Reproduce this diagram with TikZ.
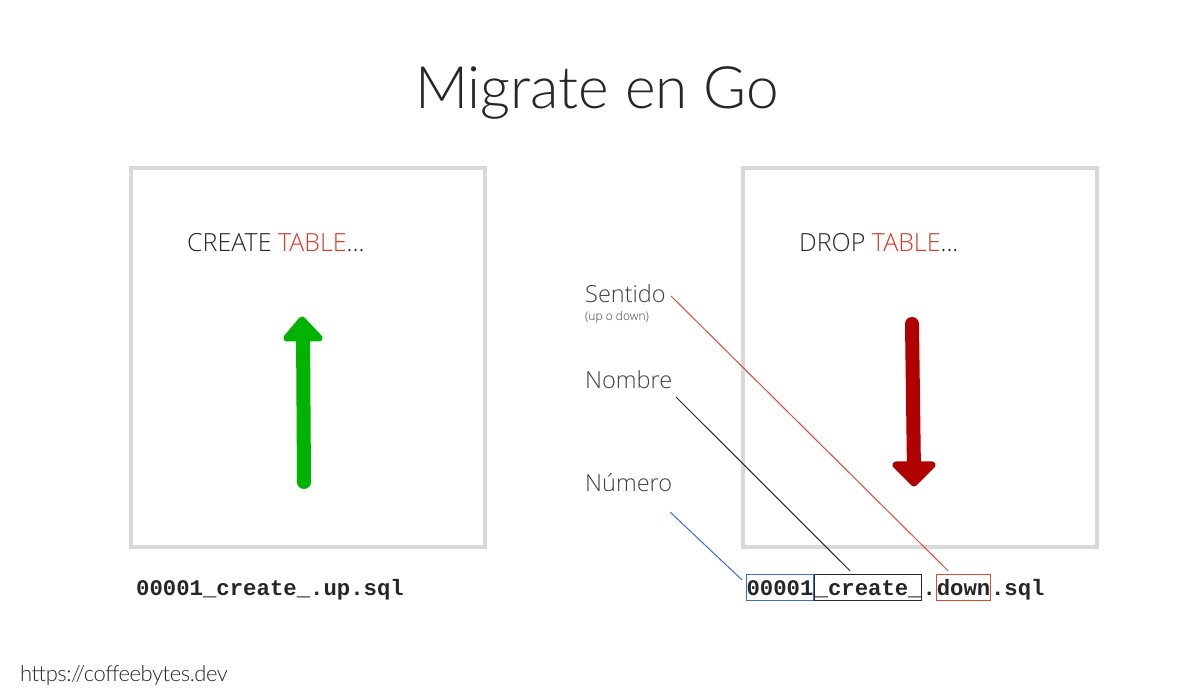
\documentclass[tikz,border=0pt]{standalone}
\usepackage{fontspec}
\usetikzlibrary{calc}
\setmainfont{Open Sans}
\newfontfamily\titlefont{Lato Light}
\newfontfamily\urlfont{Lato Light}[LetterSpace=-2]
\newfontfamily\labfont{Open Sans Light}
\newfontfamily\codefont{Liberation Mono}
\definecolor{tdark}{HTML}{262626}
\definecolor{tgray}{HTML}{404040}
\definecolor{tred}{HTML}{D63A26}
\definecolor{lred}{HTML}{DB4A33}
\definecolor{tblue}{HTML}{3A6FD0}
\definecolor{panelgray}{HTML}{D9D9D9}
\definecolor{upgreen}{HTML}{00B300}
\definecolor{downred}{HTML}{B00000}
\begin{document}
\begin{tikzpicture}[x=1pt,y=-1pt,
  titlestyle/.style={font=\titlefont\fontsize{58.5}{58.5}\selectfont, text=tdark, inner sep=0},
  panel/.style={draw=panelgray, line width=4pt, minimum width=354pt, minimum height=379pt},
  sqlhead/.style={font=\labfont\fontsize{25}{25}\selectfont, text=tdark, inner sep=0, anchor=base west},
  lab/.style={font=\labfont\fontsize{23.5}{23.5}\selectfont, text=tgray, inner sep=0, anchor=base west},
  smalllab/.style={font=\labfont\fontsize{12}{12}\selectfont, text=tgray, inner sep=0, anchor=base west},
  code/.style={font=\codefont\bfseries\fontsize{22.3}{22.3}\selectfont, text=tdark, anchor=base west, inner xsep=0pt, inner ysep=0pt},
  codebox/.style={code, inner xsep=0pt, inner ysep=3.5pt, text height=17pt, text depth=2pt, line width=1.2pt},
  leader/.style={line width=1pt},
  urlstyle/.style={font=\urlfont\fontsize{22}{22}\selectfont, text=tdark, inner sep=0, anchor=base west}
]
\useasboundingbox (0,0) rectangle (1200,700);
\fill[white] (0,0) rectangle (1200,700);

% title
\node[titlestyle] (title) at (597,93) {Migrate en Go};

% panels
\node[panel] (lbox) at (308,357.5) {};
\node[panel] (rbox) at (920,357.5) {};

\node[sqlhead] (create) at (187,252) {CREATE \textcolor{tred}{TABLE}...};
\node[sqlhead] (drop) at (799,252) {DROP \textcolor{tred}{TABLE}...};

% green up arrow
\draw[upgreen, line width=14pt, line cap=round] (304,482) -- (303,330);
\filldraw[upgreen, line width=7pt, line join=round] (302,320) -- (287,338) -- (319,338) -- cycle;

% red down arrow
\draw[downred, line width=14pt, line cap=round] (912,324) -- (914,472);
\filldraw[downred, line width=7pt, line join=round] (914,483) -- (896,465) -- (932,465) -- cycle;

% labels
\node[lab] (sentido) at (585,303) {Sentido};
\node[smalllab] (updown) at (585,321) {(up o down)};
\node[lab] (nombre) at (585,389) {Nombre};
\node[lab] (numero) at (585,492) {Número};

% file names
\node[code] (fup) at (136,595) {00001\_create\_.up.sql};

\node[codebox, draw=tblue] (num) at (746,595) {00001};
\node[codebox, draw=tdark] (nam) at (num.base east) {\_create\_};
\node[code] (dot) at (nam.base east) {.};
\node[codebox, draw=lred] (dir) at (dot.base east) {down};
\node[code] (ext) at (dir.base east) {.sql};

% leaders
\coordinate (s1) at (671,296);
\coordinate (s2) at (676,397);
\coordinate (s3) at (670,512);
\draw[leader, lred] (s1) -- ($(dir.north west)+(12,-3)$);
\draw[leader, tdark] (s2) -- ($(nam.north west)+(36,-3)$);
\draw[leader, tblue] (s3) -- ($(num.north west)+(-4,6)$);

% url
\node[urlstyle] (url) at (20,681) {https://coffeebytes.dev};
\end{tikzpicture}
\end{document}
